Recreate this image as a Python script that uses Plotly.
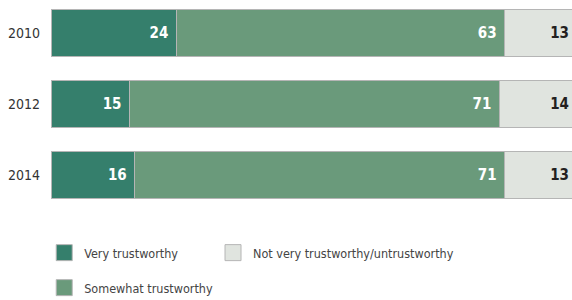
import plotly.graph_objects as go

years = ["2010", "2012", "2014"]
very = [24, 15, 16]
somewhat = [63, 71, 71]
notvery = [13, 14, 13]
series_names = ["Very trustworthy", "Somewhat trustworthy", "Not very trustworthy/untrustworthy"]
colors = ["#357f6c", "#6a9a7b", "#e0e4df"]
text_colors = ["white", "white", "#231f20"]
label_suffix = ["\u00a0", "\u00a0", ""]

FONT = "Liberation Sans Narrow, DejaVu Sans Condensed, Arial Narrow, sans-serif"

fig = go.Figure()
for name, vals, col, tc, suf in zip(series_names, [very, somewhat, notvery], colors, text_colors, label_suffix):
    fig.add_trace(go.Bar(
        y=years, x=vals, orientation="h", name=name,
        marker=dict(color=col, line=dict(color="#b5b5b5", width=1)),
        width=0.665,
        text=[str(v) + suf for v in vals], textposition="inside", insidetextanchor="end",
        textangle=0, constraintext="none",
        textfont=dict(family=FONT, size=15, color=tc, weight="bold"),
        showlegend=False, hoverinfo="skip",
    ))

# legend entries (square swatches)
legend_ids = ["legend", "legend3", "legend2"]
for name, col, lid in zip(series_names, colors, legend_ids):
    fig.add_trace(go.Scatter(
        x=[None], y=[None], mode="markers", name=name,
        marker=dict(symbol="square", size=18, color=col, line=dict(color="#b5b5b5", width=1)),
        legend=lid, showlegend=True,
    ))

leg_common = dict(font=dict(family=FONT, size=12.5, color="#444444"), bgcolor="rgba(0,0,0,0)",
                  xref="paper", yref="container", yanchor="middle", xanchor="left")
fig.update_layout(
    width=572, height=300,
    margin=dict(l=51, r=0, t=0, b=90),
    paper_bgcolor="white", plot_bgcolor="white",
    barmode="stack",
    xaxis=dict(range=[0, 100], visible=False, fixedrange=True),
    yaxis=dict(categoryorder="array", categoryarray=years, range=[2.495, -0.473],
               showgrid=False, zeroline=False, showline=False, ticks="",
               ticklabelstandoff=10, automargin=False,
               tickfont=dict(family=FONT, size=14, color="#333333")),
    legend=dict(x=-0.013, y=1 - 253 / 300, **leg_common),
    legend2=dict(x=0.311, y=1 - 253 / 300, **leg_common),
    legend3=dict(x=-0.013, y=1 - 288 / 300, **leg_common),
)

fig.write_html("out.html", config={"displayModeBar": False},
               post_script="document.body.style.margin='0';document.body.style.padding='0';")
